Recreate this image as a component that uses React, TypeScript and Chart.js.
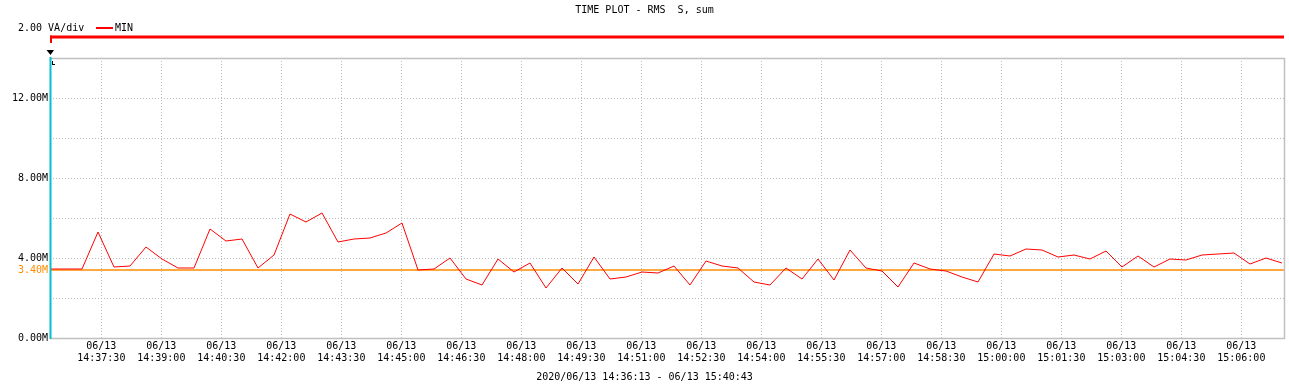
import React, { useEffect, useRef } from "react";
import { Chart, registerables } from "chart.js";

Chart.register(...registerables);

// ---- data ----
const titleText = "TIME PLOT - RMS  S, sum";
const scaleText = "2.00 VA/div";
const rangeText = "2020/06/13 14:36:13 - 06/13 15:40:43";
const dateLabel = "06/13";
const axisStart = "14:36:13";
const axisEnd = "15:07:04";
const refValue = 3.4;
const refLabel = "3.40M";
const seriesName = "MIN";

const sampleTimes = [
  "14:36:13", "14:36:37", "14:37:01", "14:37:25", "14:37:49", "14:38:13", "14:38:37", "14:39:01",
  "14:39:25", "14:39:49", "14:40:13", "14:40:37", "14:41:01", "14:41:25", "14:41:49", "14:42:13",
  "14:42:37", "14:43:01", "14:43:25", "14:43:49", "14:44:13", "14:44:37", "14:45:01", "14:45:25",
  "14:45:49", "14:46:13", "14:46:37", "14:47:01", "14:47:25", "14:47:49", "14:48:13", "14:48:37",
  "14:49:01", "14:49:25", "14:49:49", "14:50:13", "14:50:37", "14:51:01", "14:51:25", "14:51:49",
  "14:52:13", "14:52:37", "14:53:01", "14:53:25", "14:53:49", "14:54:13", "14:54:37", "14:55:01",
  "14:55:25", "14:55:49", "14:56:13", "14:56:37", "14:57:01", "14:57:25", "14:57:49", "14:58:13",
  "14:58:37", "14:59:01", "14:59:25", "14:59:49", "15:00:13", "15:00:37", "15:01:01", "15:01:25",
  "15:01:49", "15:02:13", "15:02:37", "15:03:01", "15:03:25", "15:03:49", "15:04:13", "15:04:37",
  "15:05:01", "15:05:25", "15:05:49", "15:06:13", "15:06:37", "15:07:01",
];

// values in M (VA)
const minValues = [
  3.45, 3.45, 3.45, 5.3, 3.55, 3.6, 4.55, 3.95,
  3.5, 3.5, 5.45, 4.85, 4.95, 3.5, 4.15, 6.2,
  5.8, 6.25, 4.8, 4.95, 5.0, 5.25, 5.75, 3.4,
  3.45, 4.0, 2.95, 2.65, 3.95, 3.3, 3.75, 2.5,
  3.5, 2.7, 4.05, 2.95, 3.05, 3.3, 3.25, 3.6,
  2.65, 3.85, 3.6, 3.5, 2.8, 2.65, 3.5, 2.95,
  3.95, 2.9, 4.4, 3.5, 3.35, 2.55, 3.75, 3.45,
  3.35, 3.05, 2.8, 4.2, 4.1, 4.45, 4.4, 4.05,
  4.15, 3.95, 4.35, 3.55, 4.1, 3.55, 3.95, 3.9,
  4.15, 4.2, 4.25, 3.7, 4.0, 3.75,
];

const tickTimes = [
  "14:37:30", "14:39:00", "14:40:30", "14:42:00", "14:43:30", "14:45:00", "14:46:30",
  "14:48:00", "14:49:30", "14:51:00", "14:52:30", "14:54:00", "14:55:30", "14:57:00",
  "14:58:30", "15:00:00", "15:01:30", "15:03:00", "15:04:30", "15:06:00",
];

const yMin = 0;
const yMax = 14;
const yStep = 2;
const yLabelEvery = 4;

// ---- helpers ----
const toSec = (t: string) => {
  const [h, m, s] = t.split(":").map(Number);
  return h * 3600 + m * 60 + s;
};
const pad2 = (n: number) => String(n).padStart(2, "0");
const fromSec = (v: number) => {
  const r = Math.round(v);
  return `${pad2(Math.floor(r / 3600))}:${pad2(Math.floor((r % 3600) / 60))}:${pad2(r % 60)}`;
};

const FONT = "'DejaVu Sans Mono', 'Liberation Mono', monospace";
const RED = "#ff0000";
const ORANGE = "#ff8c00";
const GRID = "#bcbcbc";
const FRAME = "#c0c0c0";
const CYAN = "#00c0cc";

export default function App() {
  const ref = useRef<HTMLCanvasElement | null>(null);

  useEffect(() => {
    if (!ref.current) return;
    const x0 = toSec(axisStart);
    const x1 = toSec(axisEnd);

    const decor = {
      id: "decor",
      afterDraw(chart: any) {
        const { ctx, chartArea } = chart;
        const { left, right, top, bottom } = chartArea;
        const W = chart.width;
        ctx.save();
        // frame
        ctx.strokeStyle = FRAME;
        ctx.lineWidth = 1.5;
        ctx.beginPath();
        ctx.moveTo(left, top + 0.5);
        ctx.lineTo(right + 0.5, top + 0.5);
        ctx.lineTo(right + 0.5, bottom + 0.5);
        ctx.lineTo(left, bottom + 0.5);
        ctx.stroke();
        // cyan left marker line
        ctx.strokeStyle = CYAN;
        ctx.lineWidth = 2;
        ctx.beginPath();
        ctx.moveTo(left + 0.5, top - 1);
        ctx.lineTo(left + 0.5, bottom + 1);
        ctx.stroke();
        // cursor triangle
        ctx.fillStyle = "#000";
        ctx.beginPath();
        ctx.moveTo(left - 3.5, top - 8);
        ctx.lineTo(left + 4, top - 8);
        ctx.lineTo(left + 0.5, top - 3);
        ctx.closePath();
        ctx.fill();
        ctx.fillRect(left + 2, top + 3, 1, 4);
        ctx.fillRect(left + 2, top + 6, 3, 1);
        // range bar
        ctx.fillStyle = RED;
        ctx.fillRect(left, 35.5, right - left, 3);
        ctx.fillRect(left, 35.5, 2, 7.5);
        // texts
        ctx.font = `10px ${FONT}`;
        ctx.fillStyle = "#000";
        ctx.textBaseline = "middle";
        ctx.textAlign = "center";
        ctx.fillText(titleText, W / 2, 10.5);
        ctx.fillText(rangeText, W / 2, 377.5);
        ctx.textAlign = "left";
        ctx.fillText(scaleText, 18, 28.5);
        // legend
        const label = chart.data.datasets[0].label;
        ctx.strokeStyle = RED;
        ctx.lineWidth = 2;
        ctx.beginPath();
        ctx.moveTo(96, 28);
        ctx.lineTo(113, 28);
        ctx.stroke();
        ctx.fillText(label, 115, 28.5);
        // reference label
        const ys = chart.scales.y;
        ctx.fillStyle = ORANGE;
        ctx.textAlign = "right";
        ctx.fillText(refLabel, left - 2, ys.getPixelForValue(refValue) + 0.5);
        ctx.restore();
      },
    };

    const chart = new Chart(ref.current, {
      type: "line",
      data: {
        datasets: [
          {
            label: seriesName,
            data: sampleTimes.map((t, i) => ({ x: toSec(t), y: minValues[i] })),
            borderColor: RED,
            borderWidth: 1,
            pointRadius: 0,
            tension: 0,
            order: 0,
          },
          {
            label: "ref",
            data: [
              { x: x0, y: refValue },
              { x: x1, y: refValue },
            ],
            borderColor: ORANGE,
            borderWidth: 1.5,
            pointRadius: 0,
            order: 1,
          },
        ],
      },
      plugins: [decor],
      options: {
        animation: false,
        responsive: false,
        maintainAspectRatio: false,
        layout: { padding: { top: 58, right: 5, left: 0, bottom: 0 } },
        plugins: {
          legend: { display: false },
          title: { display: false },
          tooltip: { enabled: false },
        },
        scales: {
          x: {
            type: "linear",
            min: x0,
            max: x1,
            afterBuildTicks: (scale: any) => {
              scale.ticks = tickTimes.map((t) => ({ value: toSec(t) }));
            },
            afterFit: (scale: any) => {
              scale.height = 49;
            },
            border: { display: false, dash: [1, 2] },
            grid: {
              color: GRID,
              lineWidth: 1,
              drawTicks: false,
            },
            ticks: {
              autoSkip: false,
              maxRotation: 0,
              padding: 2,
              color: "#000",
              font: { family: FONT, size: 10, lineHeight: "12px" },
              callback: (v: any) => [dateLabel, fromSec(Number(v))],
            },
          },
          y: {
            min: yMin,
            max: yMax,
            afterFit: (scale: any) => {
              scale.width = 50;
            },
            border: { display: false, dash: [1, 2] },
            grid: {
              color: GRID,
              lineWidth: 1,
              drawTicks: false,
            },
            ticks: {
              stepSize: yStep,
              padding: 2,
              color: "#000",
              font: { family: FONT, size: 10 },
              callback: (v: any) =>
                Number(v) % yLabelEvery === 0 && Number(v) < yMax ? `${Number(v).toFixed(2)}M` : "",
            },
          },
        },
      } as any,
    });

    return () => chart.destroy();
  }, []);

  return (
    <div style={{ position: "absolute", left: 0, top: 0, width: 1289, height: 387, background: "#fff" }}>
      <canvas ref={ref} width={1289} height={387} style={{ display: "block", width: 1289, height: 387 }} />
    </div>
  );
}
